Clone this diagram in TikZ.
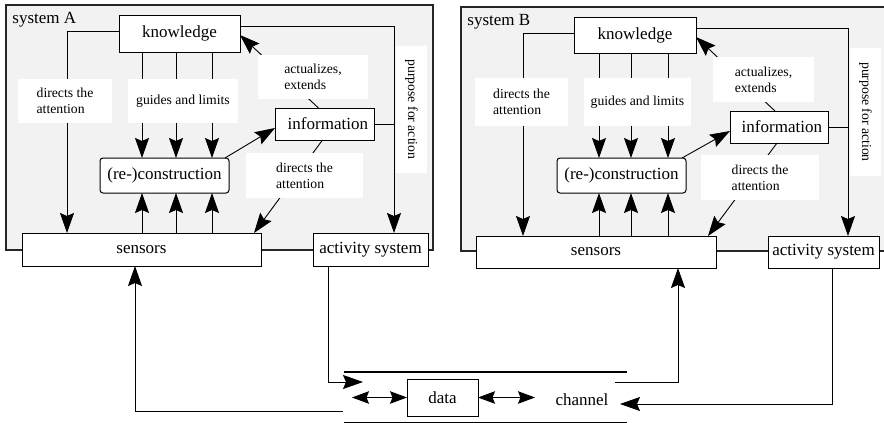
\documentclass[tikz,border=0pt]{standalone}
\usepackage{fontspec}
\setmainfont{Liberation Serif}
\usetikzlibrary{arrows.meta}
\definecolor{sysgray}{RGB}{242,242,242}
\newcommand\bigf{\fontsize{17}{19}\selectfont}
\newcommand\smallf{\fontsize{13.7}{16}\selectfont}
\begin{document}
\begin{tikzpicture}[x=1pt,y=-1pt,line width=0.9pt,
  arr/.style={-{Stealth[length=20pt,width=14pt,inset=3pt]}},
  darr/.style={{Stealth[length=17pt,width=12.5pt,inset=2.5pt]}-{Stealth[length=17pt,width=12.5pt,inset=2.5pt]}},
  box/.style={draw,fill=white,line width=1pt,inner sep=0pt,outer sep=0pt,font=\bigf},
  lab/.style={fill=white,inner sep=0pt,font=\smallf,align=left},
  sys/.style={draw=black!85,line width=1.1pt,fill=sysgray},
  syslab/.style={anchor=west,font=\bigf,inner sep=0pt}]
\useasboundingbox (0,0) rectangle (884,423);
\fill[white] (0,0) rectangle (884,423);

% ================= system A =================
\draw[sys] (6,5) rectangle (433,250);
\node[syslab] (sysAlab) at (12,20) {system A};
\node[box,minimum width=121pt,minimum height=37pt] (knowA) at (179.5,33.5) {knowledge};
\node[box,minimum width=239pt,minimum height=33pt] (sensA) at (141.5,249.5) {sensors};
\node[box,minimum width=115pt,minimum height=33pt] (actA) at (370.5,249.5) {activity system};
\node[box,rounded corners=3pt,minimum width=129pt,minimum height=35pt] (consA) at (164.5,175.5) {(re-)construction};
\node[box,minimum width=99pt,minimum height=32pt,text width=87pt,align=right] (infoA) at (324.5,124) {information};

\coordinate (lA) at (67,31);
\draw[arr] (lA -| knowA.west) -- (lA) -- (lA |- sensA.north);
\coordinate (g1A) at (142,0);
\coordinate (g2A) at (176,0);
\coordinate (g3A) at (212,0);
\foreach \g in {g1A,g2A,g3A}{
  \draw[arr] (\g |- knowA.south) -- (\g |- consA.north);
  \draw[arr] (\g |- sensA.north) -- (\g |- consA.south);
}
\draw[arr] ([xshift=-4pt]consA.north east) -- ([yshift=-4pt]infoA.west);
\draw[arr] ([xshift=-6pt]infoA.north) -- ([yshift=-1.5pt]knowA.east);
\draw[arr] ([xshift=-2pt]infoA.south) -- ([xshift=-7pt]sensA.north east);
\coordinate (pA) at (394,26);
\draw[arr] (pA -| knowA.east) -- (pA) -- (pA |- actA.north);
\draw (infoA.east) -- (infoA.east -| pA);

\node[lab,minimum width=94pt,minimum height=44pt] (l1A) at (65,101) {directs the\\attention};
\node[lab,minimum width=110pt,minimum height=44pt] (l2A) at (183,101) {guides and limits};
\node[lab,minimum width=110pt,minimum height=44pt] (l3A) at (313,77) {actualizes,\\extends};
\node[lab,minimum width=117pt,minimum height=45pt] (l4A) at (304.5,175.5) {directs the\\attention};
\node[lab,rotate=-90,minimum width=127pt,minimum height=31pt] (l5A) at (411.5,109.5) {purpose for action};

% ================= system B =================
\draw[sys] (461,7) rectangle (890,251);
\node[syslab] (sysBlab) at (467,22) {system B};
\node[box,minimum width=122pt,minimum height=36pt] (knowB) at (635,35) {knowledge};
\node[box,minimum width=240pt,minimum height=32pt] (sensB) at (596,252) {sensors};
\node[box,minimum width=111pt,minimum height=32pt] (actB) at (823.5,252) {activity system};
\node[box,rounded corners=3pt,minimum width=129pt,minimum height=35pt] (consB) at (621.5,175.5) {(re-)construction};
\node[box,minimum width=98pt,minimum height=32pt,text width=86pt,align=right] (infoB) at (779,127) {information};

\coordinate (lB) at (523,33);
\draw[arr] (lB -| knowB.west) -- (lB) -- (lB |- sensB.north);
\coordinate (g1B) at (599,0);
\coordinate (g2B) at (631,0);
\coordinate (g3B) at (668,0);
\foreach \g in {g1B,g2B,g3B}{
  \draw[arr] (\g |- knowB.south) -- (\g |- consB.north);
  \draw[arr] (\g |- sensB.north) -- (\g |- consB.south);
}
\draw[arr] ([xshift=-4pt]consB.north east) -- ([yshift=-4pt]infoB.west);
\draw[arr] ([xshift=-4pt]infoB.north) -- ([yshift=-2pt]knowB.east);
\draw[arr] ([xshift=-2pt]infoB.south) -- ([xshift=-8pt]sensB.north east);
\coordinate (pB) at (848,28);
\draw[arr] (pB -| knowB.east) -- (pB) -- (pB |- actB.north);
\draw (infoB.east) -- (infoB.east -| pB);

\node[lab,minimum width=93pt,minimum height=48pt] (l1B) at (521.5,102) {directs the\\attention};
\node[lab,minimum width=107pt,minimum height=48pt] (l2B) at (637.5,102) {guides and limits};
\node[lab,minimum width=101pt,minimum height=45pt] (l3B) at (763.5,79.5) {actualizes,\\extends};
\node[lab,minimum width=118pt,minimum height=45pt] (l4B) at (760,177.5) {directs the\\attention};
\node[lab,rotate=-90,minimum width=128pt,minimum height=31pt] (l5B) at (865.5,112) {purpose for action};

% ================= channel =================
\coordinate (chTL) at (344,372);
\coordinate (chTR) at (627,372);
\coordinate (chBL) at (344,422);
\coordinate (chBR) at (627,422);
\draw[line width=2.5pt] (chTL) -- (chTR);
\draw (chBL) -- (chBR);
\node[box,minimum width=71pt,minimum height=37pt] (data) at (442.5,397.5) {data};
\node[font=\bigf,inner sep=0pt] (channel) at (582,400) {channel};
\coordinate (dL) at (352,397.5);
\coordinate (dR) at (535,397.5);
\draw[darr] (dL) -- (data.west);
\draw[darr] (data.east) -- (dR);

\coordinate (cA1) at (328,382);
\coordinate (cA2) at (363,382);
\draw[arr] (cA1 |- actA.south) -- (cA1) -- (cA2);
\coordinate (cS1) at (343,411);
\coordinate (cS2) at (135,411);
\draw[arr] (cS1) -- (cS2) -- (cS2 |- sensA.south);
\coordinate (cR1) at (615,382);
\coordinate (cR2) at (678,382);
\draw[arr] (cR1) -- (cR2) -- (cR2 |- sensB.south);
\coordinate (cB1) at (832,404);
\coordinate (chin) at (620,404);
\draw[arr] (cB1 |- actB.south) -- (cB1) -- (chin);
\end{tikzpicture}
\end{document}
